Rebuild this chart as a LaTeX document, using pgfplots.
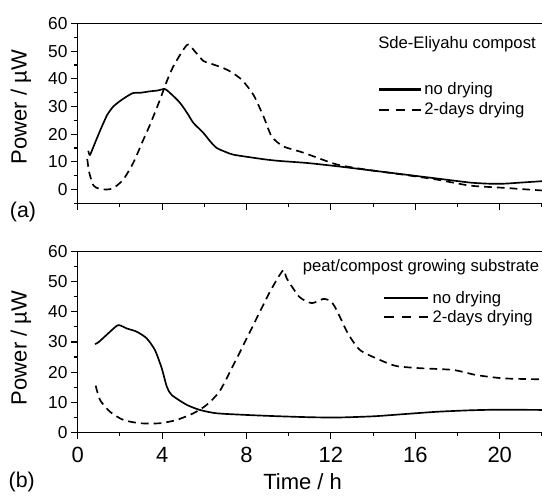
\documentclass[border=0pt]{standalone}
\usepackage{pgfplots}
\pgfplotsset{compat=1.18}
\usepackage{fontspec}
\setmainfont{Liberation Sans}
\begin{document}
\begin{tikzpicture}
\useasboundingbox (0,0) rectangle (406.5pt,372pt);
\clip (0,0) rectangle (406.5pt,372pt);
\pgfplotsset{
  common/.style={
    scale only axis, width=352.9pt, anchor=south west,
    xmin=0, xmax=22.3,
    tick pos=left, tick align=outside,
    xtick={0,4,...,20}, minor xtick={2,6,...,22},
    ytick={0,10,...,60},
    major tick length=5pt, minor tick length=2.8pt,
    every tick/.style={black, line width=0.8pt},
    axis line style={line width=0.9pt},
    /pgf/number format/assume math mode=true,
    yticklabel style={font=\fontsize{13}{15}\selectfont, inner sep=0pt, xshift=-2.5pt},
    ylabel={Power / µW},
    ylabel style={font=\fontsize{16.5}{18}\selectfont, anchor=center, inner sep=0pt},
    legend cell align=left,
    every axis plot/.append style={line width=1.25pt, black},
    dsh/.style={dash pattern=on 5.8pt off 3.8pt},
  }
}
% ---------- (a) ----------
\begin{axis}[common,
  at={(58.3pt,219.5pt)}, height=134.85pt,
  ymin=-5, ymax=60, minor ytick={-5,5,...,55},
  xticklabels={},
  ylabel style={at={(axis description cs:-0.1205,0.536)}},
  legend image code/.code={\draw[#1, line width=1.6pt] (0pt,0pt) -- (31.5pt,0pt);},
  legend style={at={(axis description cs:0.638,0.674)}, anchor=north west,
    draw=none, fill=none, inner sep=0pt, row sep=4.8pt, column sep=1.5pt,
    nodes={inner sep=0pt, font=\fontsize{12.5}{14}\selectfont}},
]
\addplot[smooth, tension=0.4] coordinates {
(0.50,14.0) (0.58,12.5) (0.8,16.5) (1.1,22) (1.4,27) (1.7,30.1) (2.1,32.5)
(2.6,34.8) (3.0,35.0) (3.43,35.5) (3.8,35.8) (4.14,36.3) (4.5,34.0) (4.85,31.3)
(5.2,27.5) (5.48,24.1) (5.95,20.5) (6.3,17.2) (6.59,15.0) (7.0,13.6) (7.37,12.6)
(8.3,11.5) (8.96,10.8) (9.6,10.3) (10.85,9.6) (12.3,8.4) (13.8,7.0) (15.4,5.5)
(17.0,4.0) (18.6,2.5) (19.5,2.1) (20.2,2.1) (21.0,2.5) (22.0,3.0) (22.3,3.1)
};
\addlegendentry{no drying}
\addplot[dsh, smooth, tension=0.4, legend image post style={dash pattern=on 7pt off 5.25pt}] coordinates {
(0.45,11) (0.55,6) (0.74,1.5) (1.0,0.3) (1.37,0) (1.69,0.5) (2.16,3.6)
(2.63,9.6) (3.11,18) (3.43,23.5) (3.9,32.5) (4.22,39.1) (4.53,44.5) (5.0,50.5)
(5.24,52.4) (5.6,49.5) (5.95,46.5) (6.27,45.6) (6.8,44.2) (7.22,42.7) (7.77,39.7)
(8.32,34.3) (8.8,26.5) (9.19,19.2) (9.74,15.6) (10.7,13.3) (12.3,9.0) (13.85,7.0)
(15.4,5.4) (17.0,3.6) (18.6,1.4) (20.2,0.6) (21.9,-0.3) (22.3,-0.4)
};
\addlegendentry{2-days drying}
\end{axis}
% ---------- (b) ----------
\begin{axis}[common,
  at={(58.3pt,47.8pt)}, height=135.45pt,
  ymin=0, ymax=60, minor ytick={5,15,...,55},
  xticklabel style={font=\fontsize{16.5}{18}\selectfont, anchor=north, inner sep=0pt, yshift=-6pt},
  xlabel={Time / h},
  xlabel style={font=\fontsize{16.5}{18}\selectfont, at={(axis description cs:0.478,-0.3195)}, anchor=base, inner sep=0pt},
  ylabel style={at={(axis description cs:-0.1205,0.467)}},
  legend image code/.code={\draw[#1, line width=1.6pt] (0pt,0pt) -- (33pt,0pt);},
  legend style={at={(axis description cs:0.649,0.784)}, anchor=north west,
    draw=none, fill=none, inner sep=0pt, row sep=4pt, column sep=2.3pt,
    nodes={inner sep=0pt, font=\fontsize{12.5}{14}\selectfont}},
]
\addplot[smooth, tension=0.4] coordinates {
(0.82,29.3) (1.0,30) (1.53,33.4) (1.92,35.6) (2.32,34.5) (2.8,33.4) (3.27,31.2)
(3.66,27.3) (3.98,21.3) (4.22,15.2) (4.45,12.4) (5.17,9.1) (5.8,7.4) (6.59,6.3)
(8.17,5.7) (9.6,5.3) (11,5.0) (12.3,4.9) (14,5.3) (15.4,6.0) (17,6.8) (18.6,7.3)
(20,7.5) (22.3,7.4)
};
\addlegendentry{no drying}
\addplot[dsh, smooth, tension=0.4, legend image post style={dash pattern=on 7.3pt off 5.55pt}] coordinates {
(0.85,15.5) (1.06,10.7) (1.53,6.8) (2.16,4.1) (2.95,3.0) (3.9,3.0) (4.69,4.1)
(5.48,6.3) (6.11,9.1) (6.74,13.8) (7.54,24.6) (8.32,35.6) (9.11,46.7) (9.74,53.9)
(9.9,51.2) (10.5,45) (11.09,42.9) (11.64,44.3) (12.0,43.5) (12.27,40.6) (12.8,32.9)
(13.38,27.3) (14.33,24.0) (15.1,22) (16.2,21.3) (17.8,20.7) (18.9,19.0) (20.2,17.9)
(21.9,17.6) (22.3,17.5)
};
\addlegendentry{2-days drying}
\end{axis}
\node[anchor=base west, inner sep=0pt, font=\fontsize{12.5}{14}\selectfont] at (283.5pt,335.25pt) {Sde-Eliyahu compost};
\node[anchor=base west, inner sep=0pt, font=\fontsize{12.5}{14}\selectfont] at (227pt,168.2pt) {peat/compost growing substrate};
\node[inner sep=0pt, font=\fontsize{16}{18}\selectfont] at (17.25pt,213.2pt) {(a)};
\node[inner sep=0pt, font=\fontsize{16}{18}\selectfont] at (16.3pt,10.5pt) {(b)};
\end{tikzpicture}
\end{document}
